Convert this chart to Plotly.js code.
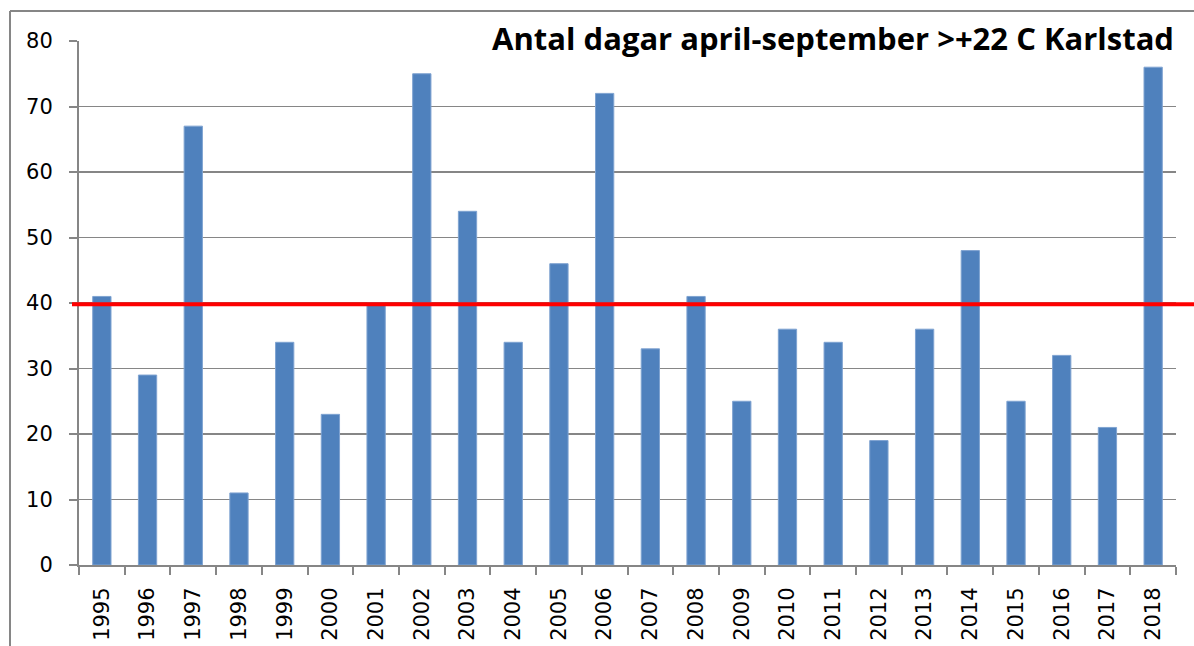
<!DOCTYPE html>
<html><head><meta charset="utf-8">
<script src="https://cdn.plot.ly/plotly-3.0.1.min.js"></script>
<style>html,body{margin:0;padding:0;background:#fff;}#chart{width:1194px;height:646px;}</style>
</head><body><div id="chart"></div>
<script>
const years = ['1995','1996','1997','1998','1999','2000','2001','2002','2003','2004','2005','2006','2007','2008','2009','2010','2011','2012','2013','2014','2015','2016','2017','2018'];
const days = [41,29,67,11,34,23,40,75,54,34,46,72,33,41,25,36,34,19,36,48,25,32,21,76];
const averageLine = 39.8;
const titleText = 'Antal dagar april-september >+22 C Karlstad';
const yTicks = [0,10,20,30,40,50,60,70,80];

const L = 79, R = 18, T = 41, B = 81, W = 1194, H = 646;
const pw = W - L - R, ph = H - T - B;
const px = v => (v - L) / pw;
const py = v => (H - B - v) / ph;

const trace = {
  type: 'bar', x: years, y: days,
  marker: {color: '#4F81BD', line: {color: '#7FA3D1', width: 1}},
  hoverinfo: 'x+y'
};

const tickFont = {family: 'DejaVu Sans', size: 21, color: '#000'};

const layout = {
  width: W, height: H,
  margin: {l: L, r: R, t: T, b: B, autoexpand: false},
  paper_bgcolor: '#fff', plot_bgcolor: '#fff',
  showlegend: false,
  bargap: 0.6,
  font: {family: 'DejaVu Sans', size: 21, color: '#000'},
  title: {
    text: '<b>' + titleText.replace('>', '&gt;') + '</b>',
    font: {family: 'Open Sans', size: 31, color: '#000'},
    xref: 'paper', x: px(1174), xanchor: 'right',
    yref: 'container', y: 1 - 39/H, yanchor: 'middle'
  },
  xaxis: {
    type: 'category', tickangle: -90,
    tickfont: tickFont,
    ticks: 'outside', tickson: 'boundaries', ticklen: 8, tickcolor: '#868686', tickwidth: 2,
    showline: true, linecolor: '#868686', linewidth: 2,
    showgrid: false, zeroline: false, ticklabelstandoff: 12,
    automargin: false,
    range: [-0.5, years.length - 0.5]
  },
  yaxis: {
    range: [0, 80], tickvals: yTicks,
    tickfont: tickFont,
    ticks: 'outside', ticklen: 8, tickcolor: '#868686', tickwidth: 2,
    showline: true, linecolor: '#868686', linewidth: 2,
    showgrid: true, gridcolor: '#868686', gridwidth: 1.5,
    zeroline: false, ticklabelstandoff: 12, automargin: false
  },
  shapes: [
    {type: 'line', xref: 'paper', yref: 'y', x0: px(72), x1: px(1194), y0: averageLine, y1: averageLine,
     line: {color: '#FF0000', width: 4}},
    {type: 'line', xref: 'paper', yref: 'paper', x0: px(10), x1: px(10), y0: py(11), y1: py(646), line: {color: '#868686', width: 2}},
    {type: 'line', xref: 'paper', yref: 'paper', x0: px(10), x1: px(1194), y0: py(11), y1: py(11), line: {color: '#868686', width: 2}}
  ]
};

Plotly.newPlot('chart', [trace], layout, {displayModeBar: false, staticPlot: true});
</script></body></html>
